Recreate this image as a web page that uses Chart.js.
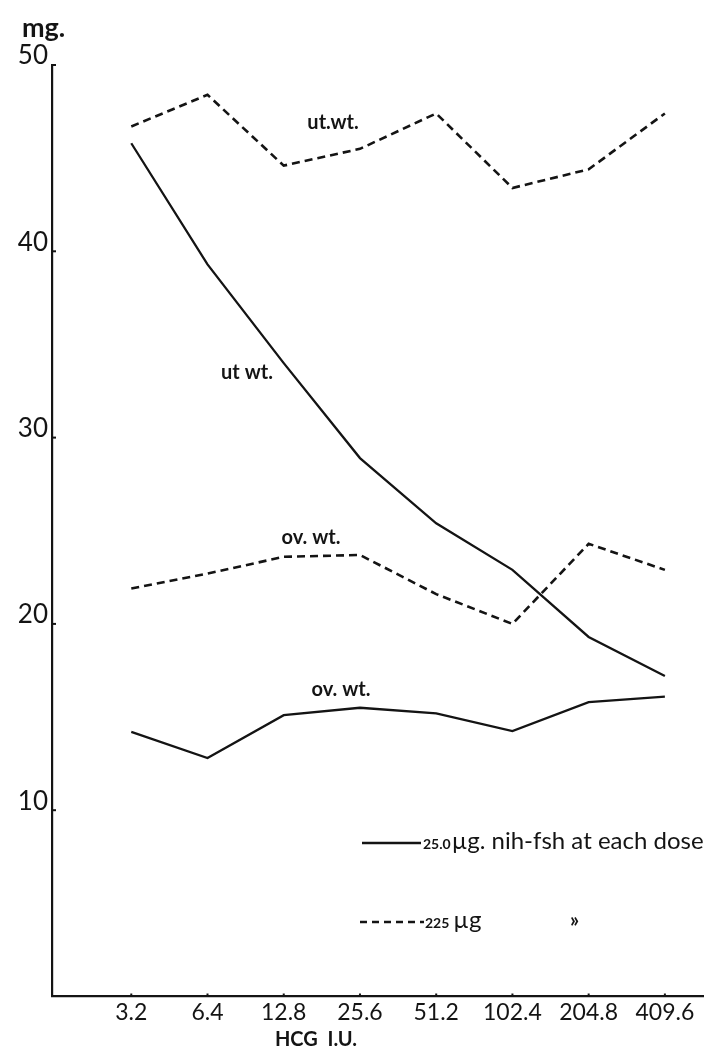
<!DOCTYPE html>
<html>
<head>
<meta charset="utf-8">
<script src="https://cdn.jsdelivr.net/npm/chart.js@4"></script>
<style>
    body { margin: 0; background: #ffffff; }
    #wrap { width: 711px; height: 1054px; position: relative; }
</style>
</head>
<body>
<div id="wrap"><canvas id="graphCanvas"></canvas></div>
<script>
// dose of HCG (I.U.) on the x axis
let doseLabels = ["3.2", "6.4", "12.8", "25.6", "51.2", "102.4", "204.8", "409.6"];
let yTicks = [10, 20, 30, 40, 50];

// weights in mg
let utWt250 = [45.8, 39.3, 34.0, 28.9, 25.4, 22.9, 19.3, 17.2];
let ovWt250 = [14.2, 12.8, 15.1, 15.5, 15.2, 14.25, 15.8, 16.1];
let utWt225 = [46.7, 48.4, 44.6, 45.5, 47.4, 43.4, 44.4, 47.4];
let ovWt225 = [21.9, 22.7, 23.6, 23.7, 21.6, 20.0, 24.3, 22.9];

const ink = "#141414";
const ctx = document.getElementById("graphCanvas").getContext("2d");

function toPoints(values) {
    return values.map((v, i) => ({ x: i, y: v }));
}

function makeSeries(values, dashed) {
    return {
        data: toPoints(values),
        borderColor: ink,
        borderWidth: dashed ? 2.6 : 2.3,
        borderDash: dashed ? [8, 5] : [],
        pointRadius: 0,
        tension: 0,
        fill: false,
    };
}

// hand lettering: curve labels, unit, legend
const lettering = {
    id: "lettering",
    afterDraw(chart) {
        const c = chart.ctx;
        const xs = chart.scales.x;
        const ys = chart.scales.y;
        c.save();
        c.fillStyle = ink;
        c.strokeStyle = ink;
        c.textBaseline = "middle";

        c.font = "bold 27px Lato";
        c.textAlign = "left";
        c.fillText("mg.", 22, 28);

        c.font = "bold 20px Lato";
        c.textAlign = "center";
        c.fillText("ut.wt.", 333, 123);
        c.fillText("ut wt.", 247, 373);
        c.fillText("ov. wt.", 311, 538);
        c.fillText("ov. wt.", 341, 690);

        c.font = "bold 20px Lato";
        c.fillText("HCG  I.U.", 316, 1040);

        // legend, solid
        c.lineWidth = 2.3;
        c.setLineDash([]);
        c.beginPath();
        c.moveTo(362, 843);
        c.lineTo(421, 843);
        c.stroke();
        c.textAlign = "left";
        c.font = "bold 14px Lato";
        c.fillText("25.0", 423, 844);
        let w = c.measureText("25.0").width;
        c.font = "24px Lato";
        c.fillText("\u00b5g. nih-fsh at each dose", 423 + w + 1, 841);

        // legend, dashed
        c.lineWidth = 2.4;
        c.setLineDash([7, 5]);
        c.beginPath();
        c.moveTo(360, 922);
        c.lineTo(424, 922);
        c.stroke();
        c.setLineDash([]);
        c.font = "bold 14px Lato";
        c.fillText("225", 425, 923);
        w = c.measureText("225").width;
        c.font = "24px Lato";
        c.fillText("\u00b5g", 425 + w + 4, 920);
        c.font = "bold 20px Lato";
        c.fillText("\u00bb", 570, 921);

        // little tick marks along both axes
        c.lineWidth = 2;
        yTicks.forEach((t) => {
            let py = ys.getPixelForValue(t);
            c.beginPath();
            c.moveTo(xs.left, py);
            c.lineTo(xs.left + 4, py);
            c.stroke();
        });
        doseLabels.forEach((_, i) => {
            let px = xs.getPixelForValue(i);
            c.beginPath();
            c.moveTo(px, ys.bottom);
            c.lineTo(px, ys.bottom - 3);
            c.stroke();
        });
        c.restore();
    },
};

let chart = new Chart(ctx, {
    type: "line",
    data: {
        datasets: [
            makeSeries(utWt250, false),
            makeSeries(ovWt250, false),
            makeSeries(utWt225, true),
            makeSeries(ovWt225, true),
        ],
    },
    options: {
        responsive: true,
        maintainAspectRatio: false,
        animation: false,
        layout: { padding: { top: 65, right: 8, left: 0, bottom: 0 } },
        plugins: {
            legend: { display: false },
            tooltip: { enabled: false },
        },
        scales: {
            x: {
                type: "linear",
                min: -1.04,
                max: 7.5,
                afterBuildTicks: (s) => { s.ticks = doseLabels.map((_, i) => ({ value: i })); },
                afterFit: (s) => { s.height = 57.5; },
                grid: { display: false, drawTicks: false },
                border: { display: true, color: ink, width: 2.2 },
                ticks: {
                    color: ink,
                    font: { family: "Lato", size: 23 },
                    padding: 2,
                    maxRotation: 0,
                    autoSkip: false,
                    callback: (v) => doseLabels[v] ?? "",
                },
            },
            y: {
                min: 0,
                max: 50,
                afterBuildTicks: (s) => { s.ticks = yTicks.map((t) => ({ value: t })); },
                afterFit: (s) => { s.width = 52; },
                grid: { display: false, drawTicks: false },
                border: { display: true, color: ink, width: 2.2 },
                ticks: {
                    color: ink,
                    font: { family: "Lato", size: 26 },
                    padding: 4,
                    labelOffset: -9,
                },
            },
        },
    },
    plugins: [lettering],
});
</script>
</body>
</html>
